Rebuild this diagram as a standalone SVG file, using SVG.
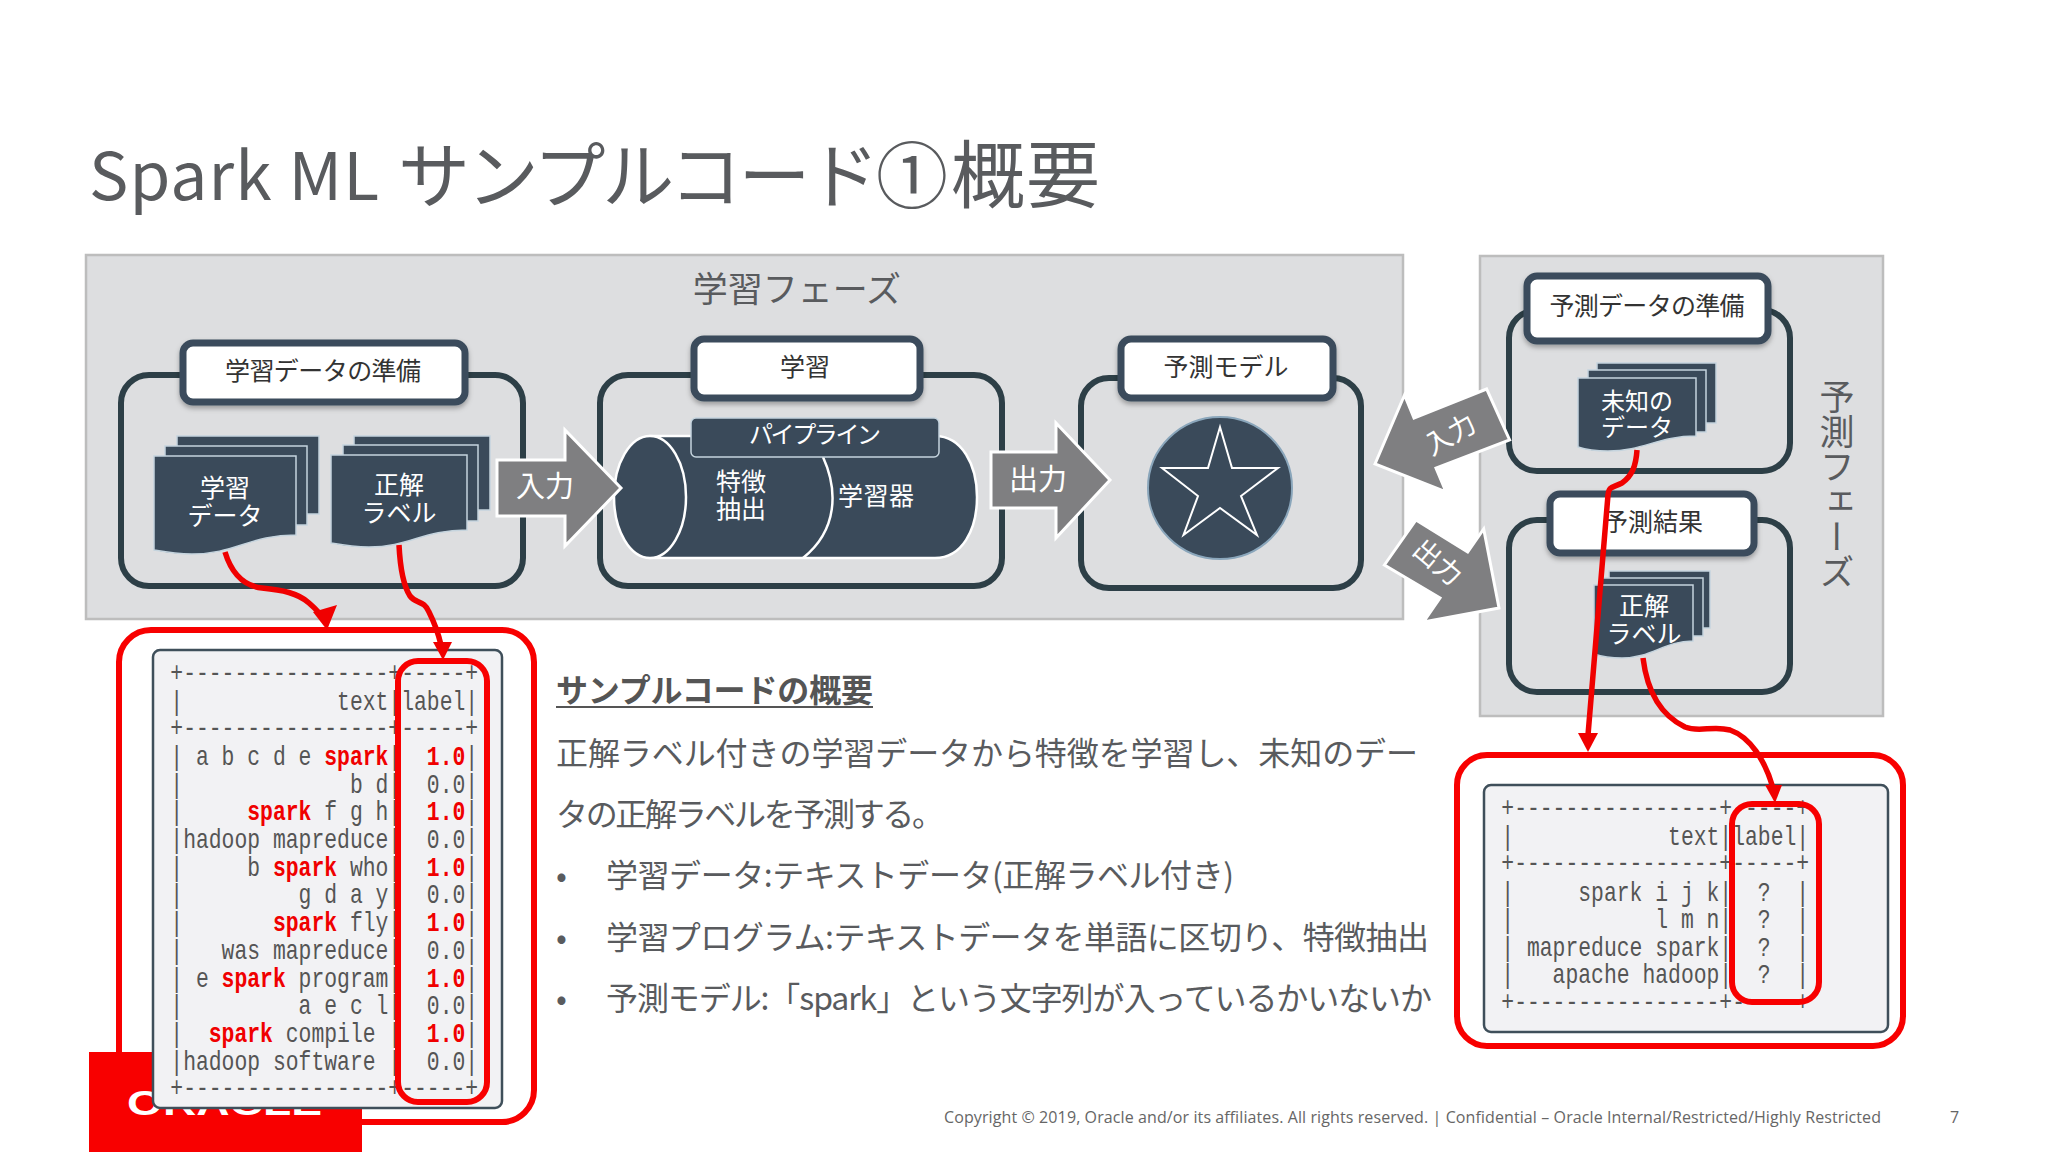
<svg xmlns="http://www.w3.org/2000/svg" width="2048" height="1152" viewBox="0 0 2048 1152">
<style>
text{font-family:"Noto Sans CJK JP","Noto Sans",sans-serif;fill:#595b5e}
.panel{fill:#dddee0;stroke:#bdbdbd;stroke-width:2.5}
.frame{fill:none;stroke:#2d3f47;stroke-width:6}
.head{fill:#fff;stroke:#3a4b5b;stroke-width:7;filter:url(#sh)}
.ht{font-size:25px;fill:#333;text-anchor:middle}
.sheet{fill:#3a4a5a;stroke:#c5d4de;stroke-width:1.5}
.wt{font-size:25px;fill:#fff;text-anchor:middle}
.arrow{fill:#7f7f81;stroke:#fff;stroke-width:3;stroke-linejoin:miter}
.at{font-size:29px;fill:#fff;text-anchor:middle}
.cyl{fill:#3a4a5a;stroke:#fff;stroke-width:2.5}
.red{fill:none;stroke:#f80000;stroke-width:6}
.tbl{fill:#f2f2f4;stroke:#3f4f5a;stroke-width:2.5}
.m{font-family:"Liberation Mono",monospace;font-size:27px;white-space:pre;fill:#555}
.m .r{fill:#f00000;font-weight:bold}
.b{font-size:32px}
.conn{fill:none;stroke:#f00000;stroke-width:5.5}
.tip{fill:#f00000}
</style>
<defs>
<filter id="sh" x="-10%" y="-10%" width="120%" height="130%"><feDropShadow dx="0" dy="3" stdDeviation="2.5" flood-color="#000" flood-opacity="0.3"/></filter>
<g id="doc3"><rect class="sheet" x="23" y="-20" width="142" height="78"/><rect class="sheet" x="11" y="-10" width="142" height="79"/><path class="sheet" d="M0 0H142V79C96 79 81 98 38 98C21 98 11 96 0 94Z"/></g>
</defs>
<rect width="2048" height="1152" fill="#fff"/>

<g id="title">
<text x="89" y="200" textLength="290" style="font-size:66px">Spark ML</text>
<text x="398" y="202" textLength="550" style="font-size:72px">サンプルコード①</text>
<text x="951" y="202" textLength="149" style="font-size:74px">概要</text>
</g>

<g id="learn-panel"><rect class="panel" x="86" y="255" width="1317" height="364"/><text x="797" y="302" style="font-size:35px;text-anchor:middle">学習フェーズ</text></g>
<g id="predict-panel"><rect class="panel" x="1480" y="256" width="403" height="460"/><text x="1837" y="379" style="font-size:35px;writing-mode:vertical-rl">予測フェーズ</text></g>

<g id="prep">
<rect class="frame" x="121" y="375" width="402" height="211" rx="28"/>
<rect class="head" x="183" y="343" width="282" height="59" rx="10"/>
<text class="ht" x="323" y="380" textLength="196">学習データの準備</text>
<g transform="translate(154,456)"><use href="#doc3"/><text class="wt" x="71" y="41">学習</text><text class="wt" x="71" y="69">データ</text></g>
<g id="doc-label" transform="translate(331,455)"><rect class="sheet" x="23" y="-19" width="136" height="74"/><rect class="sheet" x="12" y="-10" width="135" height="76"/><path class="sheet" d="M0 0H136V75C92 75 78 92 38 92C21 92 11 90 0 88Z"/><text class="wt" x="68" y="39">正解</text><text class="wt" x="68" y="67">ラベル</text></g>
</g>

<g id="train">
<rect class="frame" x="600" y="375" width="402" height="211" rx="28"/>
<rect class="head" x="694" y="339" width="226" height="59" rx="10"/>
<text class="ht" x="805" y="376">学習</text>
<path class="cyl" d="M650 436H935C962 436 977 465 977 497C977 530 962 558 935 558H650Z"/>
<ellipse class="cyl" cx="650" cy="497" rx="36" ry="61"/>
<path class="cyl" style="fill:none" d="M823 457C838 490 838 530 803 558"/>
<rect x="691" y="418" width="248" height="39" rx="5" fill="#3a4a5a" stroke="#c5d4de" stroke-width="1.5"/>
<text class="wt" x="815" y="443" textLength="132" style="font-size:24px">パイプライン</text>
<text class="wt" x="741" y="491">特徴</text>
<text class="wt" x="741" y="518">抽出</text>
<text class="wt" x="876" y="505" textLength="76">学習器</text>
</g>

<g id="model">
<rect class="frame" x="1081" y="378" width="280" height="210" rx="28"/>
<rect class="head" x="1121" y="339" width="212" height="59" rx="10"/>
<text class="ht" x="1226" y="376">予測モデル</text>
<ellipse cx="1220" cy="488" rx="72" ry="71" fill="#3a4a5a" stroke="#8aa6bb" stroke-width="2"/>
<polygon points="1220,427 1232,468 1278,468 1241,496 1257,535 1220,508 1183.5,535 1198,496 1162,468 1208,468" fill="#3a4a5a" stroke="#fff" stroke-width="2"/>
</g>

<g id="predict-prep">
<rect class="frame" x="1509" y="310" width="281" height="161" rx="28"/>
<rect class="head" x="1527" y="276" width="241" height="65" rx="10"/>
<text class="ht" x="1647" y="315" textLength="195">予測データの準備</text>
<g transform="translate(1578,378)"><rect class="sheet" x="19" y="-15" width="119" height="60"/><rect class="sheet" x="10" y="-8" width="118" height="62"/><path class="sheet" d="M0 0H118V58C80 58 66 73 30 73C18 73 9 72 0 69Z"/><text class="wt" x="59" y="32" style="font-size:24px">未知の</text><text class="wt" x="59" y="58" style="font-size:24px">データ</text></g>
</g>

<g id="predict-result">
<rect class="frame" x="1509" y="520" width="281" height="172" rx="28"/>
<rect class="head" x="1550" y="494" width="204" height="59" rx="10"/>
<text class="ht" x="1653" y="531">予測結果</text>
<g transform="translate(1594,585)"><rect class="sheet" x="15" y="-14" width="101" height="57"/><rect class="sheet" x="7" y="-7" width="102" height="58"/><path class="sheet" d="M0 0H99V56C70 56 58 73 28 73C18 73 9 72 0 69Z"/><text class="wt" x="50" y="30">正解</text><text class="wt" x="50" y="58">ラベル</text></g>
</g>

<g id="arrows">
<g id="arrow-in"><polygon class="arrow" points="497,460 565,460 565,430 621,488 565,546 565,516 497,516"/><text class="at" x="545" y="497">入力</text></g>
<g id="arrow-out"><polygon class="arrow" points="991,452 1056,452 1056,423 1110,480 1056,538 1056,508 991,508"/><text class="at" x="1038" y="490">出力</text></g>
<g id="arrow-in2"><polygon class="arrow" points="1375,464 1404.5,395 1414,418 1486.6,389 1509.6,440 1436,468 1446,492"/><text class="at" x="0" y="10" transform="translate(1450,434) rotate(-30)" style="font-size:27px">入力</text></g>
<g id="arrow-out2"><polygon class="arrow" points="1384.4,565 1416,520 1467.7,552 1483.7,529 1499,608 1423.5,622 1440,598"/><text class="at" x="0" y="10" transform="translate(1438,562) rotate(40)" style="font-size:27px">出力</text></g>
</g>

<g id="table-left">
<rect x="119" y="630" width="415" height="492" rx="32" fill="#fff" stroke="#f80000" stroke-width="6"/>
<g id="oracle"><rect x="89" y="1052" width="273" height="100" fill="#f80000"/><text x="127" y="1115" textLength="195" lengthAdjust="spacingAndGlyphs" style="font-family:'Liberation Sans',sans-serif;font-size:35px;font-weight:bold;fill:#fff">ORACLE</text></g>
<rect class="tbl" x="153" y="650" width="349" height="458" rx="7"/>
<g transform="translate(170.3,0) scale(.792,1)">
<text class="m" x="0" y="681">+----------------+-----+</text>
<text class="m" x="0" y="710">|            text|label|</text>
<text class="m" x="0" y="736">+----------------+-----+</text>
<text class="m" x="0" y="765">| a b c d e <tspan class="r">spark</tspan>|  <tspan class="r">1.0</tspan>|</text>
<text class="m" x="0" y="792.7">|             b d|  0.0|</text>
<text class="m" x="0" y="820.4">|     <tspan class="r">spark</tspan> f g h|  <tspan class="r">1.0</tspan>|</text>
<text class="m" x="0" y="848.1">|hadoop mapreduce|  0.0|</text>
<text class="m" x="0" y="875.8">|     b <tspan class="r">spark</tspan> who|  <tspan class="r">1.0</tspan>|</text>
<text class="m" x="0" y="903.5">|         g d a y|  0.0|</text>
<text class="m" x="0" y="931.2">|       <tspan class="r">spark</tspan> fly|  <tspan class="r">1.0</tspan>|</text>
<text class="m" x="0" y="958.9">|   was mapreduce|  0.0|</text>
<text class="m" x="0" y="986.6">| e <tspan class="r">spark</tspan> program|  <tspan class="r">1.0</tspan>|</text>
<text class="m" x="0" y="1014.3">|         a e c l|  0.0|</text>
<text class="m" x="0" y="1042">|  <tspan class="r">spark</tspan> compile |  <tspan class="r">1.0</tspan>|</text>
<text class="m" x="0" y="1069.7">|hadoop software |  0.0|</text>
<text class="m" x="0" y="1096">+----------------+-----+</text>
</g>
<rect class="red" x="398" y="661" width="89" height="441" rx="20"/>
</g>

<g id="table-right">
<rect class="red" x="1457" y="755" width="446" height="291" rx="30" style="fill:#fff"/>
<rect class="tbl" x="1484" y="785" width="404" height="247" rx="7"/>
<g transform="translate(1501.3,0) scale(.792,1)">
<text class="m" x="0" y="816">+----------------+-----+</text>
<text class="m" x="0" y="845">|            text|label|</text>
<text class="m" x="0" y="871">+----------------+-----+</text>
<text class="m" x="0" y="901">|     spark i j k|  ?  |</text>
<text class="m" x="0" y="928.3">|           l m n|  ?  |</text>
<text class="m" x="0" y="955.6">| mapreduce spark|  ?  |</text>
<text class="m" x="0" y="983">|   apache hadoop|  ?  |</text>
<text class="m" x="0" y="1010">+----------------+-----+</text>
</g>
<rect class="red" x="1732" y="804" width="87" height="198" rx="20"/>
</g>

<g id="body">
<text x="556" y="702" textLength="317" style="font-size:32px;font-weight:bold;fill:#555">サンプルコードの概要</text>
<rect x="556" y="706" width="317" height="2" fill="#555"/>
<text class="b" x="556" y="765" textLength="862">正解ラベル付きの学習データから特徴を学習し、未知のデー</text>
<text class="b" x="556" y="826" textLength="388">タの正解ラベルを予測する。</text>
<text class="b" x="556" y="887">•</text><text class="b" x="606" y="887" textLength="628">学習データ:テキストデータ(正解ラベル付き)</text>
<text class="b" x="556" y="949">•</text><text class="b" x="606" y="949" textLength="823">学習プログラム:テキストデータを単語に区切り、特徴抽出</text>
<text class="b" x="556" y="1010">•</text><text class="b" x="606" y="1010" textLength="826">予測モデル:「spark」という文字列が入っているかいないか</text>
</g>

<g id="footer">
<text x="944" y="1123" textLength="937" style="font-family:'Open Sans',sans-serif;font-size:16px;fill:#666">Copyright © 2019, Oracle and/or its affiliates. All rights reserved.  |  Confidential – Oracle Internal/Restricted/Highly Restricted</text>
<text x="1950" y="1123" style="font-family:'Open Sans',sans-serif;font-size:16px;fill:#666">7</text>
</g>

<g id="connectors">
<path class="conn" d="M225 552C232 575 245 586 262 588C282 590 298 593 309 603C317 610 321 614 324 620"/>
<polygon class="tip" points="313,612 337,605 327,630"/>
<path class="conn" d="M399 545C400 565 403 585 410 596C416 604 424 600 429 612C434 622 438 632 441 645"/>
<polygon class="tip" points="433,642 452,642 443,660"/>
<path class="conn" d="M1637 450C1636 466 1632 476 1622 483C1612 488 1609 486 1608 495L1588 735"/>
<polygon class="tip" points="1578,733 1598,733 1588,752"/>
<path class="conn" d="M1643 658C1647 690 1660 715 1685 727C1700 733 1712 725 1730 730C1750 737 1765 760 1773 788"/>
<polygon class="tip" points="1765,785 1782,785 1775,803"/>
</g>
</svg>
